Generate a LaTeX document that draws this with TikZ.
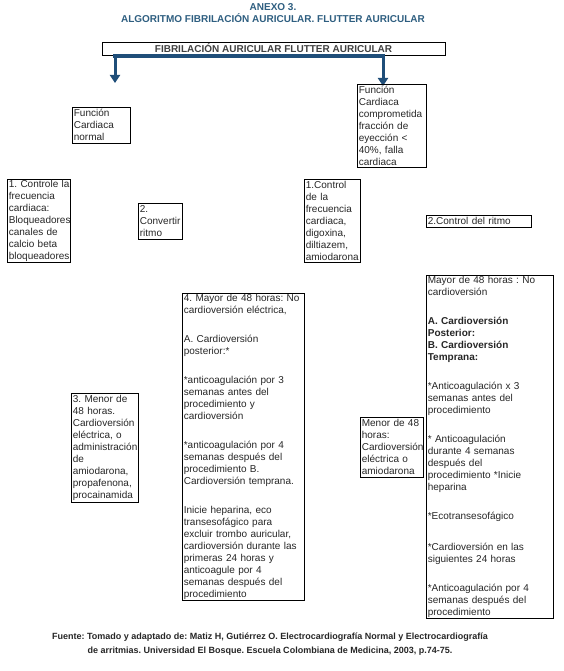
\documentclass[tikz,border=0pt]{standalone}
\usepackage{fontspec}
\setmainfont{Liberation Sans}
\usetikzlibrary{positioning, arrows.meta}
\definecolor{annexblue}{HTML}{2E5E80}
\definecolor{arrowblue}{HTML}{1F4E79}
\frenchspacing

\begin{document}
\begin{tikzpicture}[
      x=1pt, y=-1pt,
      every node/.style={font=\fontsize{10}{12}\selectfont\frenchspacing, text=black!85},
      cbox/.style={draw, line width=0.7pt, anchor=north west, align=left, inner xsep=1.5pt, inner ysep=1pt},
      headbox/.style={draw, line width=0.8pt, minimum width=343pt, minimum height=13pt, inner sep=1pt,
        font=\fontsize{10}{12}\selectfont\bfseries, text=black!75},
      titletext/.style={align=center, font=\fontsize{10}{12}\selectfont\bfseries, text=annexblue},
      sourcetext/.style={align=center, font=\fontsize{9}{14}\selectfont\bfseries\frenchspacing, text=black!85},
      busline/.style={draw=arrowblue, line width=4pt, line cap=rect},
      flowarrow/.style={-{Triangle[width=10pt,length=8pt]}, draw=arrowblue, line width=3pt},
    ]
    \useasboundingbox (0,0) rectangle (564,671);

    % title
    \node[titletext] (annex) at (273,13) {ANEXO 3.\\ALGORITMO FIBRILACIÓN AURICULAR. FLUTTER AURICULAR};

    % head box and split
    \node[headbox] (fa) at (273.5,48.5) {FIBRILACIÓN AURICULAR FLUTTER AURICULAR};
    \coordinate (lTop) at (115,56);
    \coordinate (rTop) at (383,56);
    \coordinate (lEnd) at (115,83);
    \coordinate (rEnd) at (383,86);
    \draw[busline] (lTop) -- (rTop);
    \draw[flowarrow] (lTop) -- (lEnd);
    \draw[flowarrow] (rTop) -- (rEnd);

    % left branch
    \node[cbox, minimum width=58pt, minimum height=36pt, text width=55pt] (normal) at (72,107)
      {Función\\Cardiaca\\normal};
    \node[cbox, minimum width=63pt, minimum height=83pt, text width=60pt] (ctrlA) at (7,179)
      {\mbox{1. Controle la}\\frecuencia\\cardiaca:\\Bloqueadores\\canales de\\calcio beta\\bloqueadores};
    \node[cbox, minimum width=44pt, minimum height=36pt, text width=41pt] (conv) at (138,203)
      {2.\\Convertir\\ritmo};
    \node[cbox, minimum width=67pt, minimum height=109pt, text width=64pt] (menorA) at (71,393)
      {3. Menor de\\48 horas.\\Cardioversión\\eléctrica, o\\administración\\de\\amiodarona,\\propafenona,\\procainamida};
    \node[cbox, minimum width=122pt, minimum height=307pt, text width=119pt] (mayorA) at (182,293)
      {4. Mayor de 48 horas: No\\cardioversión eléctrica,\\[17pt]
       A. Cardioversión\\posterior:*\\[17pt]
       *anticoagulación por 3\\semanas antes del\\procedimiento y\\cardioversión\\[17pt]
       *anticoagulación por 4\\semanas después del\\procedimiento B.\\Cardioversión temprana.\\[17pt]
       Inicie heparina, eco\\transesofágico para\\excluir trombo auricular,\\cardioversión durante las\\primeras 24 horas y\\anticoagule por 4\\semanas después del\\procedimiento};

    % right branch
    \node[cbox, minimum width=69pt, minimum height=83pt, text width=66pt] (comp) at (357,84)
      {Función\\Cardiaca\\comprometida\\fracción de\\eyección <\\40\%, falla\\cardiaca};
    \node[cbox, minimum width=56pt, minimum height=83pt, text width=53pt] (ctrlB) at (304,179)
      {1.Control\\de la\\frecuencia\\cardiaca,\\digoxina,\\diltiazem,\\amiodarona};
    \node[cbox, minimum width=105pt, minimum height=12pt, text width=102pt] (ritmo) at (426,215)
      {2.Control del ritmo};
    \node[cbox, minimum width=63pt, minimum height=60pt, text width=60pt] (menorB) at (360,417)
      {Menor de 48\\horas:\\Cardioversión\\eléctrica o\\amiodarona};
    \node[cbox, minimum width=127pt, minimum height=343pt, text width=124pt] (mayorB) at (426,275)
      {Mayor de 48 horas : No\\cardioversión\\[17pt]
       \textbf{A. Cardioversión}\\\textbf{Posterior:}\\\textbf{B. Cardioversión}\\\textbf{Temprana:}\\[17pt]
       *Anticoagulación x 3\\semanas antes del\\procedimiento\\[17pt]
       * Anticoagulación\\durante 4 semanas\\después del\\procedimiento *Inicie\\heparina\\[17pt]
       *Ecotransesofágico\\[19pt]
       *Cardioversión en las\\siguientes 24 horas\\[17pt]
       *Anticoagulación por 4\\semanas después del\\procedimiento};

    % source
    \node[sourcetext] (source) at (270,644)
      {Fuente: Tomado y adaptado de: Matiz H, Gutiérrez O. Electrocardiografía Normal y Electrocardiografía\\
       de arritmias. Universidad El Bosque. Escuela Colombiana de Medicina, 2003, p.74-75.};
  \end{tikzpicture}
\end{document}
